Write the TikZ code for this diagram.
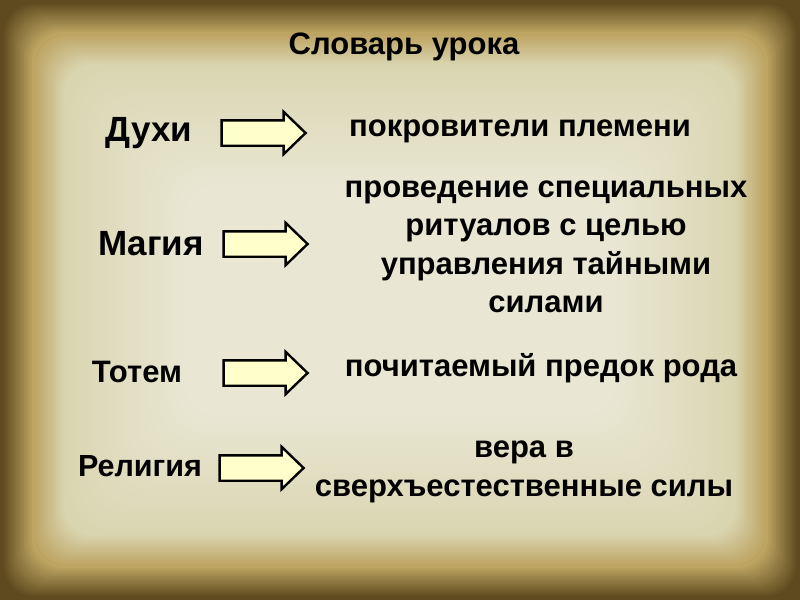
\documentclass[tikz,border=0pt]{standalone}
\usepackage{fontspec}
\setmainfont{Liberation Sans}
\usepackage{tikz}
\usetikzlibrary{shapes.arrows,positioning}
%
\definecolor{pcenter}{HTML}{E9E7D4}
\definecolor{ppale}{HTML}{DAD5B1}
\definecolor{pgold}{HTML}{BDA462}
\definecolor{pdark}{HTML}{5E4A1E}
\definecolor{arrowfill}{HTML}{FFFFCC}
%
\begin{document}
\begin{tikzpicture}[x=1pt,y=-1pt,
    term/.style={font=\bfseries\fontsize{#1}{36}\selectfont,inner sep=0pt},
    term/.default=31,
    meaning/.style={font=\bfseries\fontsize{31}{38.5}\selectfont,align=center,inner sep=0pt},
    blockarrow/.style={single arrow,draw=black,line width=2.4pt,fill=arrowfill,
          minimum height=84pt,single arrow head extend=8.5pt,
          single arrow tip angle=88,inner xsep=0pt,inner ysep=11.5pt}]
%
  \useasboundingbox (0,0) rectangle (800,600);
  % parchment: dark rim, golden band, pale middle
  \fill[pdark] (0,0) rectangle (800,600);
  \foreach \i in {0,...,15}
    \fill[rounded corners=30pt,pgold!\the\numexpr\i*100/15\relax!pdark]
      (2+\i*2,2+\i*2) rectangle (798-\i*2,598-\i*2);
  \foreach \i in {0,...,15}
    \fill[rounded corners=30pt,ppale!\the\numexpr\i*100/15\relax!pgold]
      (34+\i*2,34+\i*2) rectangle (766-\i*2,566-\i*2);
  \foreach \i in {0,...,40}
    \fill[rounded corners=40pt,pcenter!\the\numexpr\i*100/40\relax!ppale]
      (66+\i*3,66+\i*3) rectangle (734-\i*3,534-\i*3);
%
  \node (title) at (404,47) {\bfseries\fontsize{31}{36}\selectfont Словарь урока};
%
  \node[term=35]   (duhi)    at (149,133) {Духи};
  \node[term=35]   (magia)   at (151,244) {Магия};
  \node[term=31]   (totem)   at (137,372) {Тотем};
  \node[term=30.5] (religia) at (140,466) {Религия};
%
  \node[blockarrow] (a1) at (257,133) {};
  \node[blockarrow] (a2) at (259,244) {};
  \node[blockarrow] (a3) at (259,373) {};
  \node[blockarrow] (a4) at (255,468) {};
%
  \node[meaning] (d1) at (520,131) {покровители племени};
  \node[meaning] (d2) at (546,247) {проведение специальных\\ритуалов с целью\\управления тайными\\силами};
  \node[meaning] (d3) at (541,368) {почитаемый предок рода};
  \node[meaning] (d4) at (524,472) {вера в\\сверхъестественные силы};
%
\end{tikzpicture}
\end{document}
